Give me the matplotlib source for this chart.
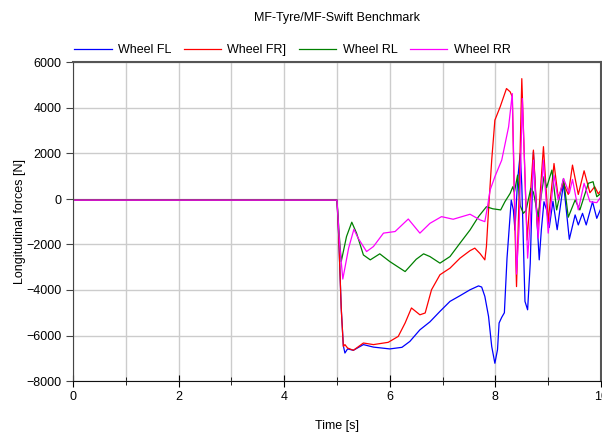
import matplotlib
matplotlib.use("Agg")
import matplotlib.pyplot as plt
from matplotlib.ticker import MultipleLocator

plt.rcParams['font.family'] = ['Liberation Sans', 'DejaVu Sans']

# time [s] and longitudinal force [N] per wheel
t_fl = [0, 5.0, 5.03, 5.08, 5.12, 5.15, 5.2, 5.31, 5.5, 5.69, 6.0, 6.23, 6.38, 6.57, 6.76,
        6.95, 7.14, 7.33, 7.52, 7.68, 7.74, 7.8, 7.87, 7.93, 7.99, 8.04, 8.07, 8.12, 8.17,
        8.22, 8.3, 8.34, 8.37, 8.42, 8.47, 8.5, 8.56, 8.61, 8.66, 8.72, 8.78, 8.83, 8.87,
        8.92, 8.97, 9.02, 9.09, 9.17, 9.29, 9.4, 9.51, 9.57, 9.65, 9.72, 9.84, 9.92, 10.0]
f_fl = [-50, -50, -1500, -4800, -6450, -6770, -6590, -6650, -6400, -6510, -6590, -6520, -6260,
        -5750, -5400, -4940, -4500, -4250, -3990, -3820, -3870, -4280, -5160, -6480, -7220,
        -6620, -5450, -5200, -5000, -2600, -50, -480, -1360, 800, 2000, 600, -4500, -4870,
        -2820, 2075, -630, -2675, -1360, -120, -480, -1250, -100, -1350, 690, -1770, -700,
        -1140, -630, -1140, -120, -850, -400]

t_fr = [0, 5.0, 5.03, 5.08, 5.12, 5.15, 5.2, 5.31, 5.5, 5.69, 5.97, 6.16, 6.29, 6.41, 6.57,
        6.67, 6.79, 6.95, 7.14, 7.33, 7.52, 7.61, 7.71, 7.8, 7.83, 7.87, 7.93, 7.99, 8.09,
        8.21, 8.28, 8.32, 8.37, 8.4, 8.45, 8.5, 8.55, 8.6, 8.66, 8.72, 8.8, 8.91, 9.0, 9.11,
        9.19, 9.29, 9.38, 9.46, 9.57, 9.68, 9.79, 9.88, 9.95, 10.0]
f_fr = [-50, -50, -1500, -4800, -6480, -6400, -6550, -6650, -6330, -6400, -6300, -6040, -5450,
        -4790, -5090, -5010, -3990, -3330, -3040, -2600, -2270, -2160, -2400, -2675, -2090,
        -480, 1710, 3465, 4050, 4855, 4710, 4490, -1210, -3850, 250, 5290, 1710, -1800, 100,
        2150, -1360, 2300, -1000, 1560, 50, 700, 200, 1490, 200, 1240, 275, 540, 220, 400]

t_rl = [0, 5.0, 5.04, 5.08, 5.18, 5.28, 5.37, 5.5, 5.63, 5.81, 6.0, 6.29, 6.5, 6.64, 6.76,
        6.95, 7.14, 7.33, 7.52, 7.68, 7.83, 7.95, 8.1, 8.18, 8.28, 8.33, 8.36, 8.42, 8.47,
        8.53, 8.58, 8.67, 8.72, 8.81, 8.92, 8.97, 9.07, 9.16, 9.29, 9.38, 9.51, 9.6, 9.76,
        9.85, 9.92, 10.0]
f_rl = [-50, -50, -1500, -2750, -1650, -1020, -1500, -2460, -2675, -2410, -2750, -3190, -2650,
        -2410, -2530, -2820, -2530, -1940, -1360, -775, -340, -430, -480, -120, 250, 540, 300,
        1050, -300, -630, -500, 470, 300, -775, 980, 500, 1270, -480, 900, -800, -44, -480,
        690, 760, 100, 250]

t_rr = [0, 5.0, 5.05, 5.11, 5.22, 5.32, 5.4, 5.56, 5.69, 5.88, 6.1, 6.35, 6.57, 6.76, 6.98,
        7.2, 7.52, 7.71, 7.8, 7.85, 7.9, 7.99, 8.12, 8.25, 8.32, 8.36, 8.4, 8.45, 8.51, 8.55,
        8.61, 8.66, 8.72, 8.81, 8.91, 9.0, 9.11, 9.19, 9.29, 9.4, 9.46, 9.57, 9.68, 9.79,
        9.92, 10.0]
f_rr = [-50, -50, -2000, -3520, -2160, -1330, -1720, -2310, -2090, -1500, -1430, -880, -1500,
        -1070, -775, -890, -670, -920, -995, -340, 395, 980, 1710, 3170, 4635, 250, -3300,
        -1210, 4415, 1710, -2600, -1000, 1710, -1720, 1710, -1500, 1050, -44, 900, 250, 860,
        -480, 690, -120, -160, 100]

series = [
    ("Wheel FL", t_fl, f_fl, "#0000ff"),
    ("Wheel FR]", t_fr, f_fr, "#ff0000"),
    ("Wheel RL", t_rl, f_rl, "#008000"),
    ("Wheel RR", t_rr, f_rr, "#ff00ff"),
]

fig = plt.figure(figsize=(6.02, 4.36), dpi=100)
ax = fig.add_axes([73 / 602, 1 - 381 / 436, (601 - 73) / 602, (381 - 62.5) / 436])

handles = []
for label, t, f, color in series:
    h, = ax.plot(t, f, color=color, lw=0.9, label=label)
    handles.append(h)

ax.set_xlim(0, 10)
ax.set_ylim(-8000, 6000)
ax.xaxis.set_major_locator(MultipleLocator(2))
ax.xaxis.set_minor_locator(MultipleLocator(1))
ax.yaxis.set_major_locator(MultipleLocator(2000))
ax.grid(which="both", color="#cccccc", lw=1)
ax.set_axisbelow(True)

ax.tick_params(axis="y", direction="out", length=5, labelsize=9, color="#444444")
ax.tick_params(axis="x", which="major", direction="inout", length=8, labelsize=9)
ax.tick_params(axis="x", which="minor", direction="inout", length=6)

for side in ["top", "right"]:
    ax.spines[side].set_color("#555555")
    ax.spines[side].set_linewidth(1.5)
ax.spines["left"].set_color("#444444")
ax.spines["bottom"].set_color("#111111")

ax.set_xlabel("Time [s]", fontsize=9, labelpad=12)
ax.set_ylabel("Longitudinal forces [N]", fontsize=9, labelpad=0)

fig.text(337 / 602, 1 - 18 / 436, "MF-Tyre/MF-Swift Benchmark", ha="center", va="center", fontsize=9)
fig.legend(handles=handles, loc="center left", bbox_to_anchor=(74 / 602, 1 - 50 / 436),
           ncol=4, frameon=False, fontsize=9, handlelength=3.0, handletextpad=0.5,
           columnspacing=1.0, borderpad=0, borderaxespad=0)

fig.savefig("out.png", dpi=100)
